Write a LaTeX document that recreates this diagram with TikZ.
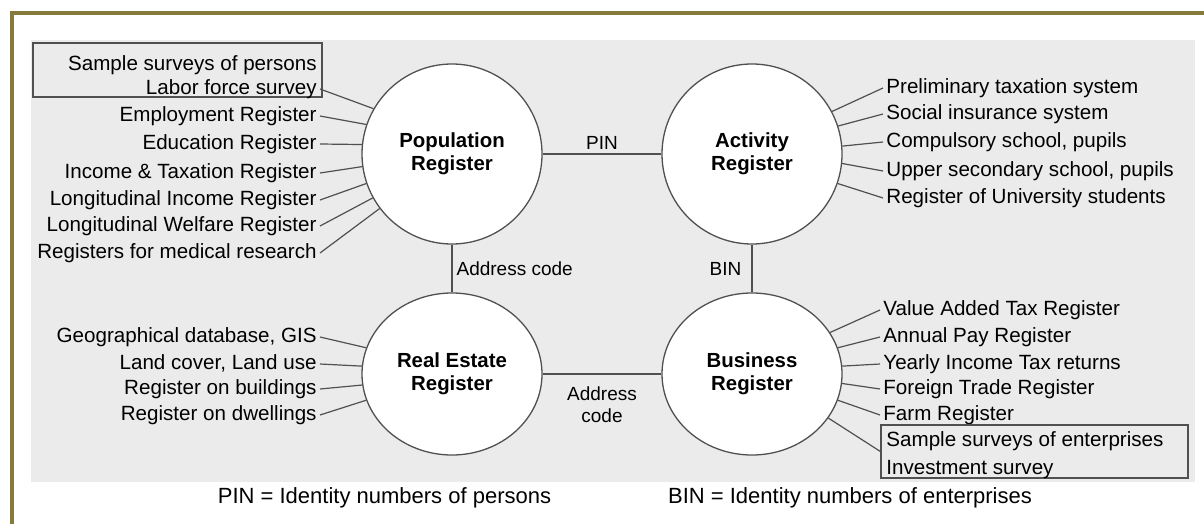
\documentclass[tikz,border=0pt]{standalone}
\usepackage{fontspec}
\setmainfont{Liberation Sans}
\usetikzlibrary{positioning, shapes.geometric}

\definecolor{framecol}{RGB}{134,123,60}
\definecolor{panelgray}{RGB}{235,235,235}
\definecolor{linegray}{RGB}{80,80,80}

\begin{document}
\begin{tikzpicture}[x=0.5pt,y=-0.5pt,
	reg/.style={circle,draw=linegray,line width=0.65pt,fill=white,minimum size=90pt,inner sep=0pt,align=center,font=\fontsize{10.2pt}{11.5pt}\selectfont\bfseries},
	regel/.style={ellipse,draw=linegray,line width=0.65pt,fill=white,minimum width=90pt,minimum height=81pt,inner sep=0pt,align=center,font=\fontsize{10.2pt}{11.5pt}\selectfont\bfseries},
	src/.style={inner sep=1.5pt,text height=0.75em,text depth=0.22em,font=\fontsize{10.3pt}{12pt}\selectfont},
	srcl/.style={src,anchor=east},
	srcr/.style={src,anchor=west},
	spoke/.style={draw=linegray,line width=0.6pt},
	link/.style={draw=linegray,line width=0.6pt},
	linklabel/.style={font=\fontsize{9.5pt}{11pt}\selectfont,inner sep=2pt,align=center},
	srvbox/.style={draw=linegray,line width=0.6pt,inner sep=0pt},
	keytext/.style={font=\fontsize{11pt}{13pt}\selectfont,inner sep=0pt}]
	\useasboundingbox (0,0) rectangle (1204,524);
	\fill[white] (0,0) rectangle (1204,524);
	\draw[framecol,line width=2pt] (12,524) -- (12,13) -- (1204,13);
	\fill[panelgray] (31,40) rectangle (1195,482);

	\node (pop) at (452,154) [reg] {Population\\Register};
	\node (act) at (752,154) [reg] {Activity\\Register};
	\node (est) at (452,374) [regel] {Real Estate\\Register};
	\node (bus) at (752,374) [regel] {Business\\Register};

	\path[link] (pop) edge node[above,linklabel] (pinlabel) {PIN} (act);
	\path[link] (pop) edge node[right,linklabel] (addrlabel) {Address code} (est);
	\path[link] (act) edge node[left=3pt,linklabel] (binlabel) {BIN} (bus);
	\path[link] (est) edge node[below=4pt,linklabel] (addrlabel2) {Address\\code} (bus);

	%population sources
	\node (persbox) at (177.5,70) [srvbox,minimum width=144.5pt,minimum height=27pt] {};
	\node (persons) at (320,65) [srcl] {Sample surveys of persons};
	\node (labor) at (320,89) [srcl] {Labor force survey};
	\node (employ) at (320,116) [srcl] {Employment Register};
	\node (educ) at (320,144) [srcl] {Education Register};
	\node (income) at (320,173) [srcl] {Income \& Taxation Register};
	\node (lincome) at (320,200) [srcl] {Longitudinal Income Register};
	\node (lwelfare) at (320,226) [srcl] {Longitudinal Welfare Register};
	\node (medical) at (320,253) [srcl] {Registers for medical research};
	\draw[spoke] (labor.east) -- (pop.150);
	\draw[spoke] (employ.east) -- (pop.161);
	\draw[spoke] (educ.east) -- (pop.174);
	\draw[spoke] (income.east) -- (pop.188);
	\draw[spoke] (lincome.east) -- (pop.199);
	\draw[spoke] (lwelfare.east) -- (pop.209);
	\draw[spoke] (medical.east) -- (pop.217);

	%activity sources
	\node (prelim) at (883,88) [srcr] {Preliminary taxation system};
	\node (social) at (883,114) [srcr] {Social insurance system};
	\node (compul) at (883,142) [srcr] {Compulsory school, pupils};
	\node (upper) at (883,171) [srcr] {Upper secondary school, pupils};
	\node (univ) at (883,198) [srcr] {Register of University students};
	\draw[spoke] (prelim.west) -- (act.28);
	\draw[spoke] (social.west) -- (act.18);
	\draw[spoke] (compul.west) -- (act.5);
	\draw[spoke] (upper.west) -- (act.-6);
	\draw[spoke] (univ.west) -- (act.-19);

	%real estate sources
	\node (geo) at (320,337) [srcl] {Geographical database, GIS};
	\node (land) at (320,364) [srcl] {Land cover, Land use};
	\node (build) at (320,389) [srcl] {Register on buildings};
	\node (dwell) at (320,415) [srcl] {Register on dwellings};
	\draw[spoke] (geo.east) -- (est.163);
	\draw[spoke] (land.east) -- (est.175);
	\draw[spoke] (build.east) -- (est.187);
	\draw[spoke] (dwell.east) -- (est.197);

	%business sources
	\node (vat) at (880,310) [srcr] {Value Added Tax Register};
	\node (pay) at (880,337) [srcr] {Annual Pay Register};
	\node (tax) at (880,364) [srcr] {Yearly Income Tax returns};
	\node (trade) at (880,389) [srcr] {Foreign Trade Register};
	\node (farm) at (880,415) [srcr] {Farm Register};
	\node (entbox) at (1034.5,451.5) [srvbox,minimum width=153.5pt,minimum height=26.5pt] {};
	\node (enterp) at (883,441) [srcr] {Sample surveys of enterprises};
	\node (invest) at (883,469) [srcr] {Investment survey};
	\draw[spoke] (vat.west) -- (bus.28);
	\draw[spoke] (pay.west) -- (bus.17);
	\draw[spoke] (tax.west) -- (bus.5);
	\draw[spoke] (trade.west) -- (bus.-6);
	\draw[spoke] (farm.west) -- (bus.-17);
	\draw[spoke] (entbox.west) -- (bus.-30);

	\node (pinkey) at (384.5,498) [keytext] {PIN = Identity numbers of persons};
	\node (binkey) at (850,498) [keytext] {BIN = Identity numbers of enterprises};
\end{tikzpicture}
\end{document}
